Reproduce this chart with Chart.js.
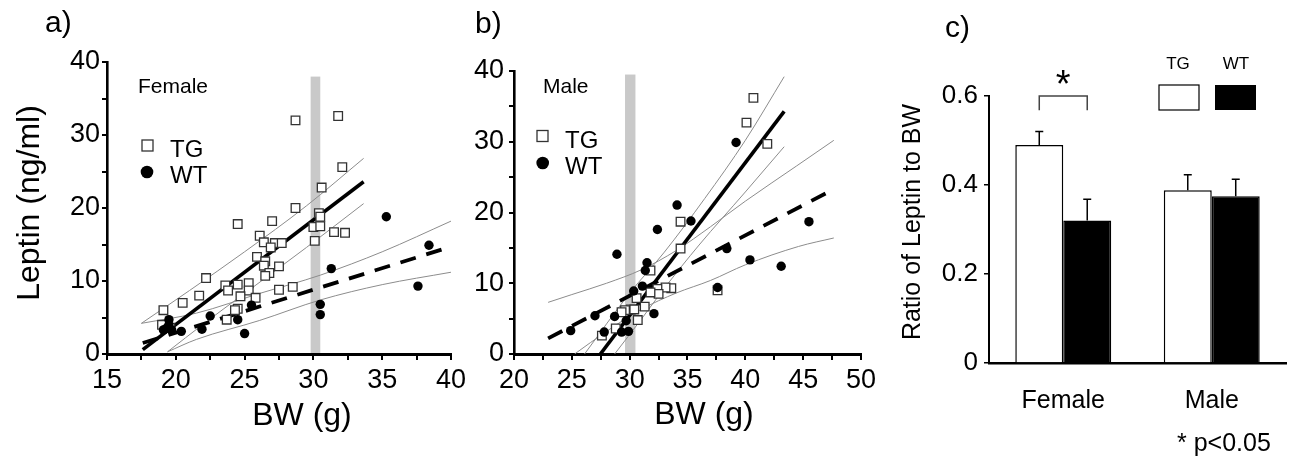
<!DOCTYPE html>
<html>
<head>
<meta charset="utf-8">
<script src="https://cdn.jsdelivr.net/npm/chart.js@4.4.1/dist/chart.umd.min.js"></script>
<style>
  html, body { margin: 0; padding: 0; background: #fff; }
  #fig { position: relative; width: 1296px; height: 459px; overflow: hidden; }
  #fig canvas { position: absolute; top: 0; }
</style>
</head>
<body>
<div id="fig">
  <canvas id="chartA" width="470" height="459" style="left:0"></canvas>
  <canvas id="chartB" width="410" height="459" style="left:470px"></canvas>
  <canvas id="chartC" width="416" height="459" style="left:880px"></canvas>
</div>
<script>
var FONT = '"Liberation Sans", Arial, Helvetica, sans-serif';
Chart.defaults.font.family = FONT;
Chart.defaults.color = '#000';

// a) female: body weight (g) vs leptin (ng/ml)
var femaleTG = [[28.7,32.0],[31.8,32.6],[32.1,25.6],[30.6,22.8],[28.7,20.0],[30.4,19.3],[30.5,18.8],
  [30.0,17.4],[30.5,17.5],[31.5,16.7],[32.3,16.6],[30.1,15.5],[24.5,17.8],[27.0,18.2],[26.1,16.2],
  [26.4,15.3],[27.2,15.2],[27.7,15.2],[26.9,14.6],[25.9,13.3],[26.5,12.7],[26.4,12.1],[27.5,12.0],
  [26.8,11.1],[26.5,10.7],[22.2,10.4],[24.5,9.5],[25.3,9.7],[23.6,9.4],[23.8,8.7],[25.3,8.7],
  [27.5,8.8],[28.5,9.2],[21.7,8.0],[24.7,7.9],[25.8,7.7],[20.5,7.0],[24.5,6.2],[24.3,6.0],
  [19.1,6.0],[23.7,4.7],[19.0,4.0],[19.6,3.6]];
var femaleWT = [[35.3,18.8],[38.4,14.9],[31.3,11.7],[37.6,9.3],[30.5,6.8],[30.5,5.4],[25.5,6.7],
  [24.5,4.7],[25.0,2.8],[22.5,5.2],[21.9,3.4],[20.4,3.1],[19.5,4.7],[19.3,3.5],[19.7,3.3],
  [19.5,4.0],[19.1,3.3]];
var femaleTgFit = [[17.6,0.6],[33.65,23.6]];
var femaleWtFit = [[17.6,1.5],[40,14.7]];
var femaleTgUpper = [[17.5,4.2],[21,8.7],[25,14.0],[29.5,20.3],[33.65,26.8]];
var femaleTgLower = [[19.4,0.3],[22,4.1],[25,8.3],[29.5,14.6],[33.65,20.6]];
var femaleWtUpper = [[17.5,4.2],[21.5,5.6],[26.1,8.3],[30.5,10.8],[35,14.0],[40,18.2]];
var femaleWtLower = [[19.4,0.3],[21.5,2.0],[26.1,4.6],[30.5,7.4],[35,9.5],[40,11.2]];
var femaleShade = [29.8, 30.5, 38];

// b) male
var maleTG = [[40.7,36.2],[40.1,32.7],[41.9,29.7],[34.4,18.7],[34.4,14.9],[31.8,11.8],[37.6,9.0],
  [33.6,9.3],[33.1,9.4],[32.4,9.2],[32.5,8.5],[31.8,8.7],[30.6,7.9],[30.1,6.3],[31.3,6.7],
  [30.7,4.8],[29.6,6.2],[29.3,5.9],[28.8,3.6],[27.6,2.6],[30.4,6.3]];
var maleWT = [[39.2,29.9],[34.1,21.05],[35.3,18.8],[32.4,17.6],[28.9,14.1],[45.5,18.7],[38.4,14.9],
  [40.4,13.3],[43.1,12.4],[37.6,9.4],[31.5,12.9],[31.35,11.8],[31.1,9.6],[30.35,8.9],[32.1,5.7],
  [27.0,5.4],[28.7,5.3],[29.7,4.7],[24.9,3.3],[27.8,3.1],[29.3,3.1],[29.9,3.2]];
var maleTgFit = [[27.47,0],[43.36,34.3]];
var maleWtFit = [[22.95,2.2],[47.65,23.3]];
var maleTgUpper = [[26.1,0],[30,8.6],[33,14.4],[36.5,22.0],[40,30.2],[43.36,39.2]];
var maleTgLower = [[28.7,0],[31,4.9],[33,9.3],[36,15.4],[40,22.9],[43.36,29.3]];
var maleWtUpper = [[22.95,7.3],[25,8.4],[28,10.0],[31,11.9],[34,14.6],[37,18.0],[40,21.6],[44.45,26.6],[47.65,30.2]];
var maleWtLower = [[25.24,0],[28,3.2],[31,6.3],[34,8.6],[37,10.4],[40,12.6],[44.6,15.2],[47.65,16.4]];
var maleShade = [29.6, 30.5, 39.5];

var leptinTicks = [0, 10, 20, 30, 40];
var femaleBwTicks = [15, 20, 25, 30, 35, 40];
var maleBwTicks = [20, 25, 30, 35, 40, 45, 50];

// c) leptin / BW ratio
var groups = ['Female', 'Male'];
var tgRatio = [0.49, 0.388];
var tgErr = [0.03, 0.035];
var wtRatio = [0.32, 0.375];
var wtErr = [0.048, 0.038];
var ratioTicks = [0, 0.2, 0.4, 0.6];

function pts(arr) {
  return arr.map(function(p) { return {x: p[0], y: p[1]}; });
}

function drawText(ctx, t) {
  ctx.save();
  ctx.font = t.size + 'px ' + FONT;
  ctx.fillStyle = '#000';
  ctx.textAlign = t.align || 'left';
  ctx.textBaseline = t.baseline || 'alphabetic';
  ctx.translate(t.x, t.y);
  if (t.rotate) ctx.rotate(t.rotate);
  ctx.fillText(t.text, 0, 0);
  ctx.restore();
}

function bandLine(data) {
  return { data: pts(data), showLine: true, pointRadius: 0, borderColor: '#8c8c8c',
    borderWidth: 1, cubicInterpolationMode: 'monotone' };
}

function scatterPanel(id, p) {
  var decor = {
    id: 'decor_' + id,
    beforeDraw: function(chart) {
      var x = chart.scales.x, y = chart.scales.y, ctx = chart.ctx;
      var l = x.getPixelForValue(p.shade[0]), r = x.getPixelForValue(p.shade[1]);
      var t = y.getPixelForValue(p.shade[2]), b = y.getPixelForValue(0);
      ctx.save();
      ctx.fillStyle = '#c9c9c9';
      ctx.fillRect(l, t, r - l, b - t);
      ctx.restore();
    },
    afterDraw: function(chart) {
      var ctx = chart.ctx;
      p.texts.forEach(function(t) { drawText(ctx, t); });
      var m = p.legend;
      ctx.save();
      ctx.fillStyle = '#fff';
      ctx.strokeStyle = '#333';
      ctx.lineWidth = 1.3;
      ctx.fillRect(m.sq[0] - 5.5, m.sq[1] - 5.5, 11, 11);
      ctx.strokeRect(m.sq[0] - 5.5, m.sq[1] - 5.5, 11, 11);
      ctx.fillStyle = '#000';
      ctx.beginPath();
      ctx.arc(m.dot[0], m.dot[1], 6.3, 0, Math.PI * 2);
      ctx.fill();
      ctx.restore();
      drawText(ctx, {text: 'TG', x: m.tg[0], y: m.tg[1], size: 24});
      drawText(ctx, {text: 'WT', x: m.wt[0], y: m.wt[1], size: 24});
    }
  };

  return new Chart(document.getElementById(id), {
    type: 'scatter',
    data: {
      datasets: [
        { data: pts(p.wt), pointStyle: 'circle', pointRadius: 4.7, backgroundColor: '#000', borderColor: '#000', borderWidth: 0 },
        { data: pts(p.tg), pointStyle: 'rect', pointRadius: 6.1, backgroundColor: '#fff', borderColor: '#333', borderWidth: 1.3 },
        { data: pts(p.tgFit), showLine: true, pointRadius: 0, borderColor: '#000', borderWidth: 3.6 },
        { data: pts(p.wtFit), showLine: true, pointRadius: 0, borderColor: '#000', borderWidth: 3.8, borderDash: [16, 11] },
        bandLine(p.tgUpper),
        bandLine(p.tgLower),
        bandLine(p.wtUpper),
        bandLine(p.wtLower)
      ]
    },
    options: {
      responsive: false,
      animation: false,
      events: [],
      layout: { padding: { top: p.area.top, right: p.area.right, bottom: 0, left: 0 } },
      plugins: { legend: { display: false }, tooltip: { enabled: false } },
      scales: {
        x: {
          type: 'linear', min: p.xMin, max: p.xMax,
          afterFit: function(s) { s.height = p.area.xh; },
          ticks: {
            stepSize: 2.5, autoSkip: false, maxRotation: 0, padding: 4,
            font: { size: 27 }, color: '#000',
            callback: function(v) { return p.xLabels.indexOf(v) >= 0 ? String(v) : ''; }
          },
          grid: { drawOnChartArea: false, color: '#000', lineWidth: 2, tickLength: 6 },
          border: { color: '#000', width: 3 }
        },
        y: {
          type: 'linear', min: 0, max: 40,
          afterFit: function(s) { s.width = p.area.left; },
          ticks: {
            stepSize: 5, autoSkip: false, padding: p.yPad,
            font: { size: 27 }, color: '#000',
            callback: function(v) { return leptinTicks.indexOf(v) >= 0 ? String(v) : ''; }
          },
          grid: { drawOnChartArea: false, color: '#000', lineWidth: 2, tickLength: 5 },
          border: { color: '#000', width: 2.6 }
        }
      }
    },
    plugins: [decor]
  });
}

scatterPanel('chartA', {
  tg: femaleTG, wt: femaleWT, tgFit: femaleTgFit, wtFit: femaleWtFit,
  tgUpper: femaleTgUpper, tgLower: femaleTgLower, wtUpper: femaleWtUpper, wtLower: femaleWtLower,
  shade: femaleShade, xMin: 15, xMax: 40, xLabels: femaleBwTicks, yPad: 2,
  area: { left: 107, top: 62, right: 19, xh: 105 },
  legend: { sq: [147.5, 145.5], dot: [147, 172], tg: [170, 157], wt: [170, 183] },
  texts: [
    {text: 'a)', x: 45, y: 32, size: 30},
    {text: 'Leptin (ng/ml)', x: 30, y: 203, size: 32, align: 'center', baseline: 'middle', rotate: -Math.PI / 2},
    {text: 'BW (g)', x: 302, y: 425, size: 32, align: 'center'},
    {text: 'Female', x: 138, y: 93, size: 21}
  ]
});

scatterPanel('chartB', {
  tg: maleTG, wt: maleWT, tgFit: maleTgFit, wtFit: maleWtFit,
  tgUpper: maleTgUpper, tgLower: maleTgLower, wtUpper: maleWtUpper, wtLower: maleWtLower,
  shade: maleShade, xMin: 20, xMax: 50, xLabels: maleBwTicks, yPad: 5,
  area: { left: 44, top: 71, right: 17, xh: 105 },
  legend: { sq: [72.5, 136], dot: [72.7, 163], tg: [95, 148], wt: [95, 174] },
  texts: [
    {text: 'b)', x: 5, y: 33, size: 30},
    {text: 'BW (g)', x: 234, y: 424, size: 32, align: 'center'},
    {text: 'Male', x: 73, y: 93, size: 21}
  ]
});

// error bars, significance bracket and legend for the ratio chart
var ratioDecor = {
  id: 'ratioDecor',
  afterDatasetsDraw: function(chart) {
    var ctx = chart.ctx, y = chart.scales.y;
    var errs = [tgErr, wtErr];
    ctx.save();
    ctx.strokeStyle = '#000';
    ctx.lineWidth = 1.5;
    errs.forEach(function(err, d) {
      var meta = chart.getDatasetMeta(d);
      var vals = chart.data.datasets[d].data;
      meta.data.forEach(function(bar, i) {
        var y0 = y.getPixelForValue(vals[i]);
        var y1 = y.getPixelForValue(vals[i] + err[i]);
        ctx.beginPath();
        ctx.moveTo(bar.x, y0);
        ctx.lineTo(bar.x, y1);
        ctx.moveTo(bar.x - 4, y1);
        ctx.lineTo(bar.x + 4, y1);
        ctx.stroke();
      });
    });
    ctx.restore();
  },
  afterDraw: function(chart) {
    var ctx = chart.ctx, y = chart.scales.y;
    var xa = chart.getDatasetMeta(0).data[0].x;
    var xb = chart.getDatasetMeta(1).data[0].x;
    var top = y.getPixelForValue(0.6), leg = y.getPixelForValue(0.568);
    ctx.save();
    ctx.strokeStyle = '#444';
    ctx.lineWidth = 1.5;
    ctx.beginPath();
    ctx.moveTo(xa, leg);
    ctx.lineTo(xa, top);
    ctx.lineTo(xb, top);
    ctx.lineTo(xb, leg);
    ctx.stroke();
    ctx.restore();
    drawText(ctx, {text: '*', x: (xa + xb) / 2, y: top + 1, size: 38, align: 'center'});

    ctx.save();
    ctx.fillStyle = '#fff';
    ctx.strokeStyle = '#000';
    ctx.lineWidth = 1.2;
    ctx.fillRect(279, 85, 40, 25);
    ctx.strokeRect(279, 85, 40, 25);
    ctx.fillStyle = '#000';
    ctx.fillRect(335, 85, 41, 25);
    ctx.restore();

    drawText(ctx, {text: 'c)', x: 65, y: 37, size: 30});
    drawText(ctx, {text: 'Ratio of Leptin to BW', x: 33, y: 222, size: 25, align: 'center', baseline: 'middle', rotate: -Math.PI / 2});
    drawText(ctx, {text: 'TG', x: 298, y: 69, size: 17, align: 'center'});
    drawText(ctx, {text: 'WT', x: 356, y: 69, size: 17, align: 'center'});
    drawText(ctx, {text: '* p<0.05', x: 297, y: 451, size: 25});
  }
};

new Chart(document.getElementById('chartC'), {
  type: 'bar',
  data: {
    labels: groups,
    datasets: [
      { label: 'TG', data: tgRatio, backgroundColor: '#fff', borderColor: '#000', borderWidth: 1.5 },
      { label: 'WT', data: wtRatio, backgroundColor: '#000', borderColor: '#000', borderWidth: 1.5 }
    ]
  },
  options: {
    responsive: false,
    animation: false,
    events: [],
    categoryPercentage: 0.646,
    barPercentage: 1.0,
    layout: { padding: { top: 96, right: 10, bottom: 0, left: 0 } },
    plugins: { legend: { display: false }, tooltip: { enabled: false } },
    scales: {
      x: {
        afterFit: function(s) { s.height = 96; },
        ticks: { padding: 15, font: { size: 25 }, color: '#000' },
        grid: { display: false },
        border: { color: '#000', width: 2.5 }
      },
      y: {
        min: 0, max: 0.6,
        afterFit: function(s) { s.width = 109; },
        ticks: {
          stepSize: 0.2, padding: 6, font: { size: 26 }, color: '#000',
          callback: function(v) {
            var hit = ratioTicks.filter(function(t) { return Math.abs(t - v) < 1e-6; });
            return hit.length ? (hit[0] === 0 ? '0' : hit[0].toFixed(1)) : '';
          }
        },
        grid: { drawOnChartArea: false, color: '#000', lineWidth: 1.5, tickLength: 5 },
        border: { color: '#000', width: 2 }
      }
    }
  },
  plugins: [ratioDecor]
});
</script>
</body>
</html>
